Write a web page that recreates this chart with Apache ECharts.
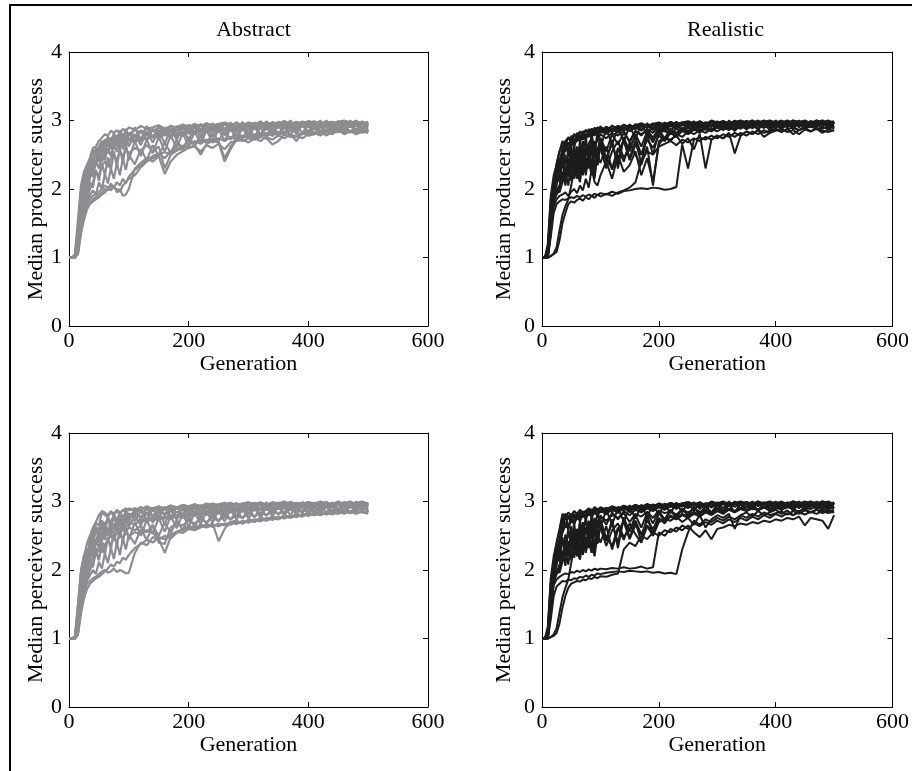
<!DOCTYPE html>
<html><head><meta charset="utf-8">
<script src="https://cdn.jsdelivr.net/npm/echarts@6/dist/echarts.min.js"></script>
<style>html,body{margin:0;padding:0;background:#fff}#c{width:912px;height:771px}</style>
</head><body><div id="c"></div><script>
// Generation sample points
const generations = [0,5,10,15,20,25,30,35,40,45,50,55,60,65,70,75,80,85,90,95,100,
 110,120,130,140,150,160,170,180,190,200,
 210,220,230,240,250,260,270,280,290,300,
 310,320,330,340,350,360,370,380,390,400,
 410,420,430,440,450,460,470,480,490,500];

const xTicks = [0,200,400,600];
const yTicks = [0,1,2,3,4];
const panelTitles = ['Abstract','Realistic','',''];
const yAxisNames = ['Median producer success','Median producer success','Median perceiver success','Median perceiver success'];
const xAxisName = 'Generation';

// Abstract – producer success runs
const abstractProducer = [
[1.00,1.00,1.05,1.55,2.05,2.25,2.35,2.45,2.60,2.62,2.70,2.75,2.80,2.78,2.85,2.82,2.86,2.80,2.88,2.84,2.90,
 2.86,2.92,2.88,2.90,2.93,2.88,2.92,2.90,2.94,2.91,
 2.95,2.92,2.96,2.93,2.95,2.97,2.94,2.96,2.93,2.97,
 2.95,2.98,2.94,2.97,2.96,2.99,2.95,2.98,2.96,2.99,
 2.97,2.95,2.99,2.96,2.98,3.00,2.97,2.99,2.96,2.98],
[1.00,1.00,1.02,1.40,1.95,2.10,2.30,2.35,2.55,2.50,2.62,2.70,2.66,2.75,2.72,2.80,2.76,2.82,2.78,2.85,2.80,
 2.86,2.82,2.88,2.84,2.90,2.86,2.85,2.91,2.88,2.92,
 2.89,2.94,2.90,2.93,2.91,2.95,2.92,2.96,2.94,2.93,
 2.96,2.94,2.97,2.93,2.98,2.95,2.97,2.94,2.98,2.96,
 2.99,2.95,2.97,2.98,2.94,2.99,2.96,2.98,2.95,2.97],
[1.00,1.00,1.00,1.25,1.75,2.05,2.15,2.30,2.40,2.55,2.58,2.65,2.72,2.68,2.74,2.70,2.78,2.74,2.80,2.76,2.82,
 2.78,2.84,2.80,2.86,2.82,2.88,2.84,2.86,2.90,2.85,
 2.92,2.88,2.90,2.93,2.87,2.94,2.90,2.92,2.95,2.91,
 2.93,2.96,2.92,2.95,2.97,2.93,2.96,2.94,2.97,2.95,
 2.96,2.98,2.94,2.97,2.95,2.98,2.96,2.99,2.94,2.96],
[1.00,1.00,1.00,1.20,1.65,1.95,2.10,2.30,2.35,2.40,2.50,2.58,2.62,2.55,2.65,2.70,2.66,2.74,2.70,2.76,2.72,
 2.78,2.74,2.82,2.76,2.80,2.84,2.79,2.86,2.82,2.88,
 2.84,2.87,2.90,2.85,2.91,2.87,2.93,2.89,2.92,2.90,
 2.94,2.90,2.95,2.92,2.93,2.96,2.91,2.95,2.93,2.97,
 2.94,2.96,2.92,2.97,2.95,2.93,2.98,2.95,2.96,2.94],
[1.00,1.00,1.00,1.15,1.55,1.80,2.00,2.15,2.30,2.35,2.45,2.40,2.52,2.58,2.50,2.62,2.66,2.60,2.70,2.65,2.72,
 2.68,2.75,2.72,2.78,2.74,2.80,2.76,2.82,2.78,2.84,
 2.80,2.86,2.83,2.88,2.84,2.89,2.86,2.90,2.87,2.91,
 2.88,2.92,2.89,2.93,2.90,2.94,2.91,2.95,2.92,2.94,
 2.96,2.92,2.95,2.93,2.97,2.94,2.96,2.93,2.95,2.92],
[1.00,1.00,1.00,1.10,1.45,1.70,1.85,2.00,2.10,2.25,2.20,2.35,2.40,2.32,2.45,2.50,2.42,2.55,2.48,2.58,2.52,
 2.60,2.56,2.64,2.55,2.62,2.30,2.50,2.66,2.62,2.70,
 2.66,2.72,2.68,2.74,2.70,2.45,2.62,2.74,2.78,2.75,
 2.80,2.77,2.82,2.78,2.84,2.80,2.86,2.82,2.80,2.85,
 2.88,2.84,2.86,2.90,2.85,2.88,2.92,2.86,2.90,2.88],
[1.00,1.00,1.00,1.08,1.40,1.62,1.78,1.85,1.90,1.92,1.96,2.00,2.05,2.02,1.98,2.05,1.95,2.00,1.90,1.92,2.00,
 2.30,2.38,2.45,2.40,2.48,2.22,2.40,2.50,2.55,2.60,
 2.62,2.55,2.64,2.60,2.66,2.58,2.68,2.70,2.72,2.68,
 2.74,2.70,2.76,2.72,2.78,2.74,2.80,2.76,2.82,2.78,
 2.80,2.84,2.78,2.83,2.86,2.80,2.84,2.82,2.86,2.83],
[1.00,1.00,1.00,1.05,1.35,1.55,1.70,1.78,1.82,1.85,1.88,1.92,1.95,2.00,2.08,2.02,2.10,2.05,2.15,2.08,2.18,
 2.28,2.35,2.42,2.48,2.52,2.45,2.55,2.58,2.62,2.60,
 2.64,2.50,2.66,2.70,2.68,2.40,2.58,2.72,2.70,2.74,
 2.72,2.76,2.74,2.65,2.70,2.80,2.76,2.78,2.74,2.80,
 2.82,2.78,2.84,2.80,2.86,2.82,2.85,2.80,2.84,2.82],
[1.00,1.00,1.00,1.06,1.38,1.60,1.74,1.80,1.85,1.88,1.92,1.95,2.00,1.98,2.05,2.02,2.00,1.96,2.05,2.10,2.15,
 2.20,2.32,2.40,2.45,2.50,2.54,2.50,2.56,2.60,2.64,
 2.70,2.66,2.72,2.68,2.74,2.70,2.76,2.72,2.75,2.78,
 2.74,2.80,2.77,2.82,2.78,2.84,2.80,2.70,2.82,2.85,
 2.80,2.84,2.82,2.86,2.83,2.88,2.84,2.86,2.82,2.85],
[1.00,1.00,1.02,1.30,1.85,2.10,2.20,2.40,2.58,2.45,2.60,2.55,2.68,2.62,2.72,2.66,2.75,2.70,2.78,2.74,2.80,
 2.76,2.70,2.80,2.75,2.82,2.78,2.84,2.80,2.78,2.86,
 2.82,2.88,2.84,2.90,2.86,2.88,2.85,2.91,2.88,2.92,
 2.89,2.93,2.90,2.94,2.91,2.88,2.93,2.95,2.92,2.94,
 2.90,2.95,2.93,2.96,2.92,2.97,2.94,2.95,2.98,2.93],
[1.00,1.00,1.03,1.45,1.98,2.15,2.32,2.20,2.45,2.38,2.55,2.48,2.62,2.52,2.70,2.58,2.74,2.62,2.78,2.66,2.82,
 2.70,2.86,2.72,2.88,2.76,2.90,2.74,2.92,2.80,2.94,
 2.82,2.95,2.84,2.96,2.83,2.97,2.86,2.98,2.85,2.97,
 2.88,2.99,2.86,2.98,2.89,3.00,2.87,2.98,2.90,2.99,
 2.88,3.00,2.89,2.98,2.87,2.99,2.90,3.00,2.88,2.97],
[1.00,1.00,1.00,1.18,1.60,1.90,2.08,2.25,2.18,2.40,2.30,2.52,2.42,2.60,2.48,2.66,2.54,2.72,2.58,2.76,2.62,
 2.80,2.64,2.84,2.68,2.86,2.66,2.88,2.72,2.90,2.70,
 2.92,2.74,2.93,2.76,2.94,2.78,2.95,2.77,2.96,2.80,
 2.97,2.79,2.96,2.82,2.98,2.80,2.97,2.84,2.98,2.82,
 2.99,2.83,2.97,2.85,2.99,2.84,2.98,2.86,2.99,2.85],
[1.00,1.00,1.00,1.12,1.50,1.75,1.92,2.10,2.02,2.28,2.12,2.38,2.20,2.46,2.28,2.55,2.32,2.60,2.38,2.66,2.42,
 2.70,2.48,2.72,2.52,2.76,2.55,2.78,2.60,2.82,2.62,
 2.84,2.66,2.86,2.68,2.88,2.70,2.89,2.72,2.90,2.74,
 2.92,2.75,2.93,2.77,2.94,2.78,2.95,2.80,2.96,2.79,
 2.96,2.81,2.97,2.80,2.97,2.82,2.98,2.81,2.97,2.83],
[1.00,1.00,1.01,1.35,1.90,2.20,2.05,2.45,2.30,2.62,2.40,2.70,2.50,2.78,2.58,2.82,2.62,2.86,2.66,2.88,2.70,
 2.90,2.72,2.92,2.75,2.91,2.78,2.93,2.76,2.94,2.80,
 2.95,2.82,2.96,2.84,2.95,2.86,2.97,2.85,2.98,2.87,
 2.97,2.88,2.99,2.86,2.98,2.89,3.00,2.88,2.99,2.90,
 2.98,2.89,3.00,2.91,2.99,2.90,3.00,2.92,2.98,2.90],
[1.00,1.00,1.00,1.10,1.45,1.68,1.82,1.90,1.98,1.92,2.10,2.00,2.22,2.08,2.30,2.15,2.38,2.20,2.45,2.28,2.50,
 2.36,2.58,2.42,2.64,2.48,2.68,2.52,2.72,2.56,2.76,
 2.62,2.80,2.66,2.82,2.70,2.85,2.72,2.86,2.74,2.88,
 2.76,2.90,2.78,2.91,2.80,2.92,2.79,2.93,2.82,2.94,
 2.81,2.95,2.83,2.94,2.84,2.96,2.82,2.95,2.85,2.96]
];

// Realistic – producer success runs
const realisticProducer = [
[1.00,1.00,1.20,1.90,2.20,2.35,2.55,2.62,2.70,2.75,2.72,2.80,2.78,2.84,2.80,2.86,2.82,2.88,2.84,2.90,2.86,
 2.90,2.87,2.92,2.89,2.93,2.90,2.94,2.91,2.95,2.92,
 2.96,2.93,2.95,2.97,2.94,2.96,2.98,2.95,2.97,2.94,
 2.98,2.96,2.99,2.95,2.97,3.00,2.96,2.98,2.95,2.99,
 2.97,3.00,2.96,2.98,2.99,2.95,3.00,2.97,2.98,2.96],
[1.00,1.00,1.10,1.75,2.05,2.25,2.40,2.58,2.55,2.68,2.62,2.74,2.70,2.78,2.72,2.80,2.76,2.84,2.78,2.86,2.82,
 2.88,2.84,2.90,2.86,2.92,2.88,2.91,2.93,2.89,2.95,
 2.92,2.96,2.93,2.95,2.97,2.93,2.96,2.94,2.98,2.95,
 2.97,2.94,2.98,2.96,2.99,2.95,2.97,3.00,2.96,2.98,
 2.95,2.99,2.97,2.94,2.98,2.96,3.00,2.95,2.97,2.99],
[1.00,1.00,1.05,1.60,1.95,2.10,2.20,2.35,2.25,2.45,2.30,2.55,2.20,2.60,2.35,2.50,2.65,2.30,2.70,2.45,2.75,
 2.55,2.80,2.65,2.82,2.70,2.85,2.78,2.88,2.82,2.90,
 2.86,2.92,2.88,2.94,2.90,2.93,2.95,2.91,2.96,2.93,
 2.95,2.97,2.93,2.96,2.98,2.94,2.97,2.95,2.99,2.96,
 2.98,2.94,2.97,2.99,2.95,2.98,2.96,2.99,2.94,2.97],
[1.00,1.00,1.02,1.45,1.85,1.95,2.05,2.20,2.10,2.30,2.15,2.40,2.25,2.10,2.45,2.20,2.55,2.35,2.15,2.50,2.60,
 2.30,2.55,2.70,2.45,2.62,2.75,2.50,2.78,2.72,2.82,
 2.85,2.80,2.88,2.84,2.90,2.86,2.92,2.88,2.93,2.90,
 2.94,2.91,2.95,2.92,2.96,2.93,2.97,2.94,2.96,2.98,
 2.95,2.97,2.93,2.98,2.96,2.94,2.99,2.95,2.97,2.96],
[1.00,1.00,1.02,1.40,1.75,1.85,1.90,1.92,1.95,1.90,1.96,2.00,1.94,2.05,1.98,2.15,2.02,2.30,2.10,2.05,2.20,
 2.40,2.15,2.50,2.25,2.35,2.55,2.20,2.45,2.10,2.65,
 2.75,2.70,2.80,2.76,2.84,2.80,2.86,2.82,2.88,2.84,
 2.90,2.86,2.92,2.88,2.93,2.90,2.94,2.91,2.95,2.92,
 2.93,2.96,2.91,2.95,2.97,2.92,2.96,2.94,2.97,2.93],
[1.00,1.00,1.00,1.30,1.65,1.78,1.82,1.85,1.84,1.86,1.88,1.87,1.90,1.88,1.91,1.89,1.92,1.90,1.93,1.91,1.94,
 1.92,1.96,1.93,1.97,1.98,2.00,2.01,2.00,2.02,2.01,
 1.99,2.00,2.03,2.65,2.30,2.72,2.75,2.72,2.78,2.74,
 2.80,2.76,2.82,2.78,2.84,2.80,2.86,2.82,2.85,2.88,
 2.84,2.87,2.90,2.86,2.89,2.92,2.87,2.90,2.88,2.91],
[1.00,1.00,1.00,1.02,1.05,1.08,1.25,1.50,1.65,1.78,1.82,1.80,1.84,1.86,1.83,1.88,1.85,1.90,1.87,1.92,1.89,
 1.93,1.90,1.95,1.98,2.02,2.10,2.40,2.55,2.50,2.62,
 2.66,2.70,2.64,2.72,2.68,2.74,2.70,2.76,2.72,2.78,
 2.74,2.80,2.76,2.82,2.78,2.84,2.80,2.86,2.82,2.85,
 2.88,2.83,2.86,2.80,2.87,2.84,2.89,2.85,2.83,2.86],
[1.00,1.00,1.00,1.02,1.06,1.15,1.40,1.62,1.75,1.85,2.05,2.30,2.15,2.50,2.25,2.60,2.40,2.20,2.55,2.35,2.65,
 2.45,2.30,2.60,2.40,2.68,2.50,2.35,2.62,2.05,2.70,
 2.75,2.72,2.78,2.66,2.74,2.58,2.80,2.30,2.72,2.78,
 2.74,2.82,2.52,2.78,2.84,2.80,2.86,2.76,2.82,2.87,
 2.83,2.88,2.80,2.86,2.90,2.84,2.88,2.82,2.87,2.85],
[1.00,1.00,1.08,1.65,2.00,2.15,2.30,2.50,2.62,2.58,2.72,2.66,2.78,2.74,2.82,2.76,2.85,2.80,2.88,2.84,2.90,
 2.86,2.92,2.88,2.94,2.90,2.93,2.96,2.92,2.95,2.97,
 2.94,2.98,2.95,2.97,2.99,2.96,2.98,2.95,3.00,2.97,
 2.99,2.96,2.98,3.00,2.97,2.99,2.96,2.98,3.00,2.97,
 2.99,2.96,3.00,2.98,2.95,2.99,2.97,3.00,2.96,2.98],
[1.00,1.00,1.04,1.55,1.90,2.00,1.95,2.10,2.25,2.05,2.40,2.15,2.35,2.55,2.20,2.45,2.30,2.60,2.25,2.50,2.38,
 2.62,2.28,2.55,2.70,2.42,2.65,2.50,2.72,2.60,2.78,
 2.70,2.82,2.76,2.85,2.80,2.87,2.83,2.89,2.85,2.90,
 2.87,2.92,2.88,2.93,2.90,2.91,2.94,2.89,2.95,2.92,
 2.94,2.90,2.96,2.92,2.95,2.97,2.93,2.96,2.94,2.88],
[1.00,1.00,1.15,1.85,2.10,2.30,2.45,2.40,2.60,2.55,2.68,2.64,2.72,2.70,2.76,2.74,2.80,2.77,2.82,2.79,2.84,
 2.81,2.86,2.83,2.88,2.85,2.89,2.87,2.91,2.88,2.92,
 2.90,2.93,2.91,2.94,2.92,2.95,2.93,2.96,2.92,2.95,
 2.93,2.96,2.94,2.97,2.92,2.96,2.95,2.98,2.93,2.96,
 2.94,2.97,2.95,2.92,2.96,2.94,2.97,2.95,2.93,2.96],
[1.00,1.00,1.03,1.50,1.88,1.98,2.05,2.15,2.30,2.20,2.50,2.35,2.62,2.45,2.70,2.55,2.66,2.75,2.60,2.72,2.80,
 2.74,2.82,2.78,2.85,2.68,2.84,2.80,2.86,2.75,2.88,
 2.84,2.87,2.82,2.89,2.85,2.90,2.86,2.88,2.84,2.91,
 2.87,2.90,2.86,2.92,2.88,2.91,2.89,2.93,2.87,2.92,
 2.89,2.93,2.90,2.86,2.92,2.90,2.94,2.88,2.92,2.90],
[1.00,1.00,1.06,1.70,2.00,2.25,2.10,2.45,2.20,2.60,2.30,2.68,2.25,2.72,2.40,2.78,2.35,2.82,2.50,2.85,2.60,
 2.88,2.65,2.90,2.70,2.92,2.74,2.94,2.78,2.95,2.80,
 2.96,2.82,2.97,2.84,2.98,2.85,2.99,2.86,2.98,2.88,
 3.00,2.87,2.99,2.89,3.00,2.88,2.99,2.90,3.00,2.89,
 2.99,2.91,3.00,2.90,2.99,2.92,3.00,2.91,2.99,2.90],
[1.00,1.00,1.02,1.50,1.92,2.05,2.35,2.12,2.50,2.18,2.62,2.25,2.55,2.15,2.68,2.30,2.60,2.22,2.70,2.35,2.65,
 2.40,2.72,2.30,2.76,2.45,2.70,2.38,2.80,2.50,2.84,
 2.70,2.88,2.76,2.90,2.80,2.92,2.82,2.94,2.84,2.95,
 2.86,2.96,2.85,2.97,2.87,2.96,2.88,2.98,2.86,2.97,
 2.89,2.98,2.87,2.99,2.88,2.97,2.90,2.99,2.88,2.98],
[1.00,1.00,1.03,1.62,1.96,2.18,2.40,2.55,2.70,2.50,2.78,2.62,2.82,2.70,2.85,2.72,2.88,2.75,2.90,2.78,2.92,
 2.80,2.93,2.82,2.94,2.84,2.95,2.85,2.96,2.86,2.97,
 2.87,2.98,2.88,2.97,2.89,2.99,2.88,2.98,2.90,2.99,
 2.89,3.00,2.91,2.99,2.90,3.00,2.92,2.99,2.91,3.00,
 2.90,2.99,2.92,3.00,2.91,2.99,2.93,3.00,2.92,2.98],
[1.00,1.00,1.00,1.35,1.80,1.92,1.98,2.25,2.05,2.40,2.12,2.52,2.20,2.35,2.60,2.25,2.48,2.68,2.30,2.58,2.72,
 2.45,2.66,2.38,2.75,2.55,2.80,2.62,2.84,2.68,2.86,
 2.74,2.88,2.78,2.90,2.80,2.92,2.82,2.93,2.84,2.94,
 2.86,2.95,2.85,2.96,2.87,2.97,2.86,2.98,2.88,2.97,
 2.87,2.98,2.89,2.97,2.88,2.99,2.90,2.98,2.89,2.97],
[1.00,1.00,1.08,1.78,2.10,2.38,2.55,2.70,2.62,2.76,2.68,2.80,2.72,2.84,2.76,2.86,2.80,2.88,2.82,2.90,2.84,
 2.91,2.86,2.92,2.87,2.94,2.88,2.95,2.90,2.96,2.91,
 2.97,2.92,2.98,2.93,2.97,2.94,2.99,2.93,2.98,2.95,
 2.99,2.94,3.00,2.95,2.99,2.96,3.00,2.95,2.99,2.96,
 3.00,2.95,2.99,2.97,3.00,2.96,2.99,2.97,3.00,2.96]
];

// Abstract – perceiver success runs
const abstractPerceiver = [
[1.00,1.00,1.04,1.50,2.00,2.20,2.38,2.50,2.62,2.70,2.80,2.86,2.84,2.80,2.86,2.82,2.88,2.84,2.86,2.90,2.87,
 2.90,2.88,2.93,2.89,2.92,2.90,2.94,2.91,2.95,2.93,
 2.96,2.93,2.97,2.94,2.96,2.98,2.95,2.97,2.94,2.98,
 2.96,2.99,2.95,2.97,2.98,2.96,2.99,2.97,2.95,2.99,
 2.97,3.00,2.96,2.98,2.95,2.99,2.97,2.98,3.00,2.96],
[1.00,1.00,1.02,1.42,1.92,2.05,2.25,2.38,2.50,2.62,2.58,2.72,2.66,2.76,2.70,2.80,2.74,2.82,2.78,2.85,2.80,
 2.84,2.88,2.82,2.90,2.86,2.92,2.87,2.90,2.93,2.89,
 2.94,2.91,2.95,2.92,2.96,2.93,2.95,2.97,2.94,2.96,
 2.98,2.94,2.97,2.95,2.98,2.96,2.99,2.95,2.98,2.97,
 2.95,2.99,2.97,2.96,3.00,2.95,2.98,2.96,2.99,2.97],
[1.00,1.00,1.00,1.30,1.80,2.00,2.12,2.28,2.45,2.55,2.62,2.58,2.68,2.72,2.66,2.75,2.70,2.78,2.74,2.80,2.76,
 2.82,2.78,2.84,2.80,2.86,2.82,2.88,2.84,2.90,2.86,
 2.91,2.88,2.92,2.89,2.93,2.90,2.94,2.91,2.95,2.92,
 2.94,2.96,2.92,2.95,2.97,2.93,2.96,2.94,2.97,2.95,
 2.96,2.93,2.97,2.95,2.98,2.94,2.97,2.95,2.98,2.96],
[1.00,1.00,1.00,1.22,1.70,1.92,2.05,2.20,2.30,2.45,2.40,2.55,2.50,2.60,2.56,2.64,2.60,2.68,2.64,2.72,2.68,
 2.74,2.70,2.76,2.72,2.78,2.75,2.80,2.77,2.82,2.79,
 2.84,2.81,2.86,2.83,2.88,2.85,2.89,2.86,2.90,2.87,
 2.91,2.88,2.92,2.89,2.93,2.90,2.94,2.91,2.95,2.92,
 2.93,2.96,2.92,2.95,2.97,2.93,2.96,2.94,2.97,2.95],
[1.00,1.00,1.00,1.15,1.58,1.82,1.98,2.10,2.20,2.32,2.28,2.40,2.36,2.45,2.50,2.44,2.55,2.52,2.60,2.56,2.62,
 2.58,2.64,2.55,2.66,2.40,2.38,2.62,2.68,2.65,2.72,
 2.68,2.74,2.70,2.76,2.72,2.78,2.74,2.80,2.76,2.82,
 2.78,2.84,2.80,2.86,2.82,2.85,2.88,2.84,2.87,2.90,
 2.86,2.89,2.92,2.87,2.90,2.88,2.92,2.89,2.91,2.88],
[1.00,1.00,1.00,1.10,1.48,1.72,1.86,2.00,2.12,2.22,2.30,2.26,2.36,2.42,2.38,2.46,2.42,2.50,2.46,2.54,2.50,
 2.55,2.52,2.58,2.54,2.45,2.25,2.48,2.56,2.60,2.64,
 2.62,2.66,2.64,2.68,2.42,2.60,2.70,2.72,2.68,2.74,
 2.72,2.76,2.74,2.78,2.75,2.80,2.77,2.82,2.79,2.84,
 2.81,2.85,2.83,2.86,2.84,2.87,2.85,2.82,2.86,2.84],
[1.00,1.00,1.00,1.08,1.42,1.65,1.80,1.84,1.88,1.90,1.94,1.98,2.00,1.96,1.98,2.02,1.97,2.00,1.98,1.95,1.96,
 2.25,2.40,2.36,2.48,2.44,2.50,2.46,2.54,2.58,2.62,
 2.60,2.64,2.62,2.66,2.64,2.68,2.66,2.70,2.68,2.72,
 2.70,2.74,2.72,2.76,2.74,2.78,2.76,2.80,2.78,2.82,
 2.80,2.83,2.81,2.84,2.82,2.85,2.83,2.86,2.84,2.83],
[1.00,1.00,1.00,1.05,1.36,1.58,1.72,1.80,1.84,1.88,1.90,1.94,1.98,2.02,2.08,2.05,2.12,2.10,2.18,2.15,2.22,
 2.32,2.38,2.44,2.40,2.48,2.45,2.52,2.56,2.54,2.60,
 2.58,2.62,2.66,2.63,2.68,2.65,2.70,2.67,2.72,2.69,
 2.74,2.71,2.76,2.73,2.78,2.75,2.80,2.77,2.82,2.79,
 2.83,2.80,2.84,2.81,2.85,2.82,2.86,2.83,2.85,2.82],
[1.00,1.00,1.02,1.35,1.85,2.05,2.20,2.35,2.55,2.68,2.65,2.85,2.80,2.78,2.84,2.80,2.86,2.82,2.88,2.85,2.90,
 2.86,2.92,2.88,2.90,2.93,2.89,2.94,2.91,2.95,2.92,
 2.96,2.93,2.95,2.97,2.94,2.96,2.98,2.95,2.97,2.99,
 2.96,2.98,2.95,2.99,2.97,3.00,2.96,2.98,2.97,2.99,
 2.96,2.99,2.98,2.95,2.99,2.97,3.00,2.96,2.98,2.97],
[1.00,1.00,1.00,1.18,1.62,1.88,2.02,2.18,2.28,2.38,2.48,2.42,2.55,2.50,2.60,2.54,2.64,2.58,2.68,2.62,2.70,
 2.66,2.74,2.70,2.76,2.72,2.78,2.74,2.80,2.76,2.82,
 2.79,2.84,2.80,2.86,2.82,2.87,2.84,2.89,2.85,2.90,
 2.87,2.91,2.88,2.92,2.89,2.93,2.90,2.94,2.91,2.93,
 2.95,2.91,2.94,2.92,2.96,2.93,2.95,2.91,2.94,2.92],
[1.00,1.00,1.03,1.48,1.96,2.18,2.30,2.24,2.48,2.40,2.58,2.50,2.64,2.55,2.72,2.60,2.76,2.64,2.80,2.68,2.83,
 2.72,2.86,2.74,2.88,2.78,2.90,2.76,2.92,2.81,2.94,
 2.83,2.95,2.85,2.96,2.84,2.97,2.87,2.98,2.86,2.97,
 2.88,2.99,2.87,2.98,2.90,3.00,2.88,2.98,2.91,2.99,
 2.89,3.00,2.90,2.98,2.88,2.99,2.91,3.00,2.89,2.97],
[1.00,1.00,1.00,1.20,1.62,1.92,2.10,2.28,2.20,2.42,2.32,2.54,2.44,2.62,2.50,2.68,2.56,2.74,2.60,2.77,2.63,
 2.80,2.65,2.84,2.69,2.86,2.67,2.88,2.73,2.90,2.71,
 2.92,2.75,2.93,2.77,2.94,2.79,2.95,2.78,2.96,2.81,
 2.97,2.80,2.96,2.83,2.98,2.81,2.97,2.85,2.98,2.83,
 2.99,2.84,2.97,2.86,2.99,2.85,2.98,2.87,2.99,2.86],
[1.00,1.00,1.00,1.12,1.52,1.78,1.94,2.12,2.04,2.30,2.14,2.40,2.22,2.48,2.30,2.56,2.34,2.62,2.40,2.66,2.44,
 2.70,2.50,2.73,2.53,2.76,2.56,2.79,2.61,2.82,2.63,
 2.84,2.67,2.86,2.69,2.88,2.71,2.89,2.73,2.90,2.75,
 2.92,2.76,2.93,2.78,2.94,2.79,2.95,2.81,2.96,2.80,
 2.96,2.82,2.97,2.81,2.97,2.83,2.98,2.82,2.97,2.84],
[1.00,1.00,1.01,1.38,1.92,2.22,2.08,2.48,2.32,2.64,2.42,2.72,2.52,2.79,2.60,2.83,2.63,2.86,2.67,2.88,2.71,
 2.90,2.73,2.92,2.76,2.91,2.79,2.93,2.77,2.94,2.81,
 2.95,2.83,2.96,2.85,2.95,2.87,2.97,2.86,2.98,2.88,
 2.97,2.89,2.99,2.87,2.98,2.90,3.00,2.89,2.99,2.91,
 2.98,2.90,3.00,2.92,2.99,2.91,3.00,2.93,2.98,2.91],
[1.00,1.00,1.00,1.10,1.46,1.70,1.84,1.92,2.00,1.94,2.12,2.02,2.24,2.10,2.32,2.16,2.40,2.22,2.46,2.30,2.52,
 2.38,2.60,2.44,2.65,2.50,2.69,2.54,2.73,2.58,2.77,
 2.63,2.81,2.67,2.83,2.71,2.86,2.73,2.87,2.75,2.89,
 2.77,2.90,2.79,2.91,2.81,2.92,2.80,2.93,2.83,2.94,
 2.82,2.95,2.84,2.94,2.85,2.96,2.83,2.95,2.86,2.96]
];

// Realistic – perceiver success runs
const realisticPerceiver = [
[1.00,1.00,1.18,1.88,2.20,2.40,2.60,2.82,2.78,2.84,2.80,2.86,2.82,2.88,2.84,2.86,2.90,2.86,2.92,2.88,2.91,
 2.89,2.93,2.90,2.94,2.91,2.95,2.92,2.96,2.93,2.97,
 2.94,2.98,2.95,2.97,2.99,2.96,2.98,2.95,2.99,2.97,
 3.00,2.96,2.98,2.97,2.99,2.96,3.00,2.97,2.98,2.96,
 2.99,2.97,3.00,2.96,2.98,2.99,2.96,3.00,2.97,2.98],
[1.00,1.00,1.08,1.72,2.05,2.22,2.42,2.55,2.65,2.60,2.72,2.68,2.76,2.72,2.80,2.76,2.82,2.78,2.84,2.80,2.86,
 2.82,2.88,2.84,2.90,2.86,2.91,2.88,2.92,2.89,2.94,
 2.91,2.95,2.92,2.96,2.93,2.97,2.94,2.96,2.98,2.95,
 2.97,2.94,2.98,2.96,2.99,2.95,2.97,2.98,2.96,2.99,
 2.97,2.95,2.99,2.96,2.98,3.00,2.96,2.98,2.95,2.99],
[1.00,1.00,1.05,1.60,1.95,2.10,2.25,2.40,2.30,2.55,2.40,2.62,2.35,2.68,2.50,2.58,2.72,2.45,2.76,2.60,2.80,
 2.66,2.84,2.74,2.86,2.80,2.88,2.84,2.90,2.86,2.92,
 2.88,2.93,2.90,2.94,2.91,2.95,2.92,2.96,2.93,2.95,
 2.97,2.94,2.96,2.98,2.95,2.97,2.94,2.98,2.96,2.99,
 2.95,2.98,2.96,2.99,2.94,2.97,2.99,2.95,2.98,2.96],
[1.00,1.00,1.02,1.48,1.85,1.96,2.08,2.22,2.12,2.32,2.18,2.42,2.28,2.15,2.48,2.25,2.55,2.38,2.20,2.52,2.62,
 2.35,2.58,2.68,2.48,2.60,2.72,2.52,2.65,2.55,2.74,
 2.70,2.78,2.74,2.80,2.76,2.82,2.78,2.84,2.80,2.86,
 2.82,2.88,2.84,2.89,2.86,2.90,2.87,2.91,2.88,2.92,
 2.89,2.93,2.90,2.94,2.91,2.93,2.95,2.90,2.94,2.92],
[1.00,1.00,1.02,1.42,1.78,1.86,1.90,1.93,1.95,1.94,1.97,1.96,1.99,1.97,2.00,1.98,2.01,1.99,2.02,2.00,2.02,
 2.01,2.03,2.02,2.04,2.02,2.03,2.05,2.02,2.04,2.55,
 2.50,2.60,2.56,2.65,2.60,2.68,2.64,2.70,2.66,2.72,
 2.68,2.74,2.70,2.76,2.72,2.78,2.74,2.80,2.76,2.82,
 2.78,2.83,2.80,2.84,2.81,2.85,2.82,2.86,2.83,2.85],
[1.00,1.00,1.00,1.28,1.62,1.76,1.80,1.84,1.83,1.86,1.85,1.88,1.87,1.90,1.89,1.92,1.90,1.93,1.92,1.95,1.94,
 1.96,1.97,1.98,1.97,1.99,1.98,1.97,1.98,1.96,1.97,
 1.95,1.96,1.94,2.30,2.55,2.72,2.66,2.74,2.70,2.76,
 2.72,2.78,2.74,2.80,2.76,2.82,2.78,2.84,2.80,2.83,
 2.85,2.81,2.86,2.82,2.87,2.84,2.88,2.85,2.87,2.86],
[1.00,1.00,1.00,1.02,1.04,1.08,1.22,1.45,1.62,1.74,1.80,1.82,1.84,1.83,1.86,1.85,1.88,1.87,1.90,1.88,1.91,
 1.90,1.93,1.95,2.30,2.40,2.35,2.50,2.45,2.55,2.50,
 2.58,2.55,2.62,2.58,2.65,2.55,2.48,2.58,2.45,2.60,
 2.62,2.66,2.64,2.68,2.66,2.70,2.68,2.72,2.70,2.74,
 2.72,2.76,2.74,2.78,2.65,2.76,2.74,2.72,2.60,2.80],
[1.00,1.00,1.00,1.02,1.06,1.15,1.38,1.60,1.74,1.86,2.10,2.35,2.20,2.55,2.30,2.62,2.42,2.25,2.58,2.40,2.66,
 2.48,2.35,2.62,2.44,2.68,2.52,2.40,2.64,2.50,2.70,
 2.74,2.72,2.78,2.70,2.76,2.66,2.80,2.62,2.74,2.80,
 2.76,2.82,2.60,2.80,2.84,2.78,2.86,2.80,2.84,2.88,
 2.82,2.87,2.80,2.86,2.89,2.84,2.88,2.83,2.86,2.84],
[1.00,1.00,1.10,1.68,2.02,2.20,2.35,2.55,2.68,2.62,2.76,2.70,2.80,2.76,2.84,2.78,2.86,2.82,2.88,2.84,2.90,
 2.86,2.92,2.88,2.93,2.90,2.95,2.91,2.96,2.93,2.97,
 2.94,2.98,2.95,2.97,2.99,2.96,2.98,2.95,3.00,2.97,
 2.99,2.96,2.98,3.00,2.97,2.99,2.96,2.98,3.00,2.97,
 2.99,2.96,3.00,2.98,2.95,2.99,2.97,3.00,2.96,2.98],
[1.00,1.00,1.04,1.52,1.90,2.00,1.96,2.12,2.28,2.08,2.42,2.18,2.38,2.58,2.22,2.48,2.32,2.62,2.28,2.52,2.40,
 2.64,2.30,2.58,2.70,2.45,2.66,2.52,2.72,2.60,2.76,
 2.68,2.80,2.74,2.82,2.78,2.85,2.80,2.86,2.82,2.88,
 2.84,2.89,2.86,2.90,2.87,2.91,2.88,2.92,2.89,2.93,
 2.90,2.94,2.91,2.95,2.88,2.94,2.92,2.95,2.90,2.93],
[1.00,1.00,1.12,1.82,2.08,2.28,2.45,2.70,2.82,2.78,2.80,2.76,2.82,2.78,2.84,2.80,2.86,2.82,2.88,2.84,2.89,
 2.86,2.90,2.87,2.92,2.88,2.93,2.90,2.94,2.91,2.95,
 2.92,2.96,2.93,2.95,2.97,2.94,2.96,2.93,2.97,2.95,
 2.96,2.94,2.97,2.95,2.98,2.93,2.96,2.97,2.94,2.98,
 2.95,2.97,2.94,2.98,2.96,2.93,2.97,2.95,2.98,2.96],
[1.00,1.00,1.03,1.50,1.86,1.96,2.05,2.18,2.32,2.22,2.52,2.38,2.60,2.46,2.68,2.55,2.64,2.74,2.58,2.70,2.78,
 2.72,2.80,2.76,2.83,2.70,2.82,2.78,2.85,2.76,2.87,
 2.83,2.86,2.81,2.88,2.84,2.89,2.85,2.87,2.83,2.90,
 2.86,2.89,2.85,2.91,2.87,2.90,2.88,2.92,2.86,2.91,
 2.88,2.92,2.89,2.85,2.91,2.89,2.93,2.87,2.91,2.89],
[1.00,1.00,1.06,1.72,2.02,2.28,2.12,2.48,2.22,2.62,2.32,2.70,2.28,2.74,2.42,2.80,2.38,2.83,2.52,2.86,2.62,
 2.88,2.66,2.90,2.71,2.92,2.75,2.94,2.78,2.95,2.81,
 2.96,2.83,2.97,2.84,2.98,2.86,2.99,2.87,2.98,2.88,
 3.00,2.87,2.99,2.89,3.00,2.88,2.99,2.90,3.00,2.89,
 2.99,2.91,3.00,2.90,2.99,2.92,3.00,2.91,2.99,2.90],
[1.00,1.00,1.02,1.52,1.90,2.06,2.38,2.14,2.52,2.20,2.64,2.28,2.56,2.18,2.70,2.32,2.62,2.25,2.72,2.38,2.66,
 2.42,2.74,2.32,2.77,2.47,2.71,2.40,2.80,2.52,2.84,
 2.70,2.88,2.75,2.90,2.79,2.92,2.81,2.94,2.83,2.95,
 2.85,2.96,2.84,2.97,2.86,2.96,2.87,2.98,2.85,2.97,
 2.88,2.98,2.86,2.99,2.87,2.97,2.89,2.99,2.87,2.98],
[1.00,1.00,1.03,1.64,1.98,2.20,2.42,2.62,2.80,2.60,2.82,2.66,2.84,2.72,2.86,2.74,2.88,2.76,2.90,2.79,2.92,
 2.81,2.93,2.83,2.94,2.84,2.95,2.86,2.96,2.87,2.97,
 2.88,2.98,2.89,2.97,2.90,2.99,2.89,2.98,2.91,2.99,
 2.90,3.00,2.92,2.99,2.91,3.00,2.93,2.99,2.92,3.00,
 2.91,2.99,2.93,3.00,2.92,2.99,2.94,3.00,2.93,2.98],
[1.00,1.00,1.00,1.36,1.82,1.94,2.00,2.28,2.06,2.42,2.14,2.54,2.22,2.36,2.62,2.26,2.50,2.70,2.32,2.60,2.74,
 2.46,2.68,2.40,2.76,2.56,2.80,2.62,2.84,2.68,2.86,
 2.74,2.88,2.78,2.90,2.80,2.92,2.82,2.93,2.84,2.94,
 2.86,2.95,2.85,2.96,2.87,2.97,2.86,2.98,2.88,2.97,
 2.87,2.98,2.89,2.97,2.88,2.99,2.90,2.98,2.89,2.97],
[1.00,1.00,1.08,1.80,2.12,2.40,2.58,2.78,2.64,2.78,2.70,2.82,2.74,2.85,2.77,2.87,2.80,2.89,2.82,2.90,2.84,
 2.91,2.86,2.92,2.87,2.94,2.88,2.95,2.90,2.96,2.91,
 2.97,2.92,2.98,2.93,2.97,2.94,2.99,2.93,2.98,2.95,
 2.99,2.94,3.00,2.95,2.99,2.96,3.00,2.95,2.99,2.96,
 3.00,2.95,2.99,2.97,3.00,2.96,2.99,2.97,3.00,2.96]
];

const panelRuns = [abstractProducer, realisticProducer, abstractPerceiver, realisticPerceiver];
const panelColors = ['#8c8d91','#1c1c1c','#8c8d91','#1c1c1c'];
const lineWidths = [2.2, 2.0, 2.2, 2.0];
const grids = [
  {left:69, top:52, width:359, height:274},
  {left:542, top:52, width:357, height:274},
  {left:69, top:433, width:359, height:274},
  {left:542, top:433, width:357, height:274}
];
const yNameGaps = [22, 27, 22, 27];

const FONT = 'Liberation Serif, Times New Roman, serif';
const FS = 22;
const axisLine = {show:true, onZero:false, lineStyle:{color:'#000', width:1}};
const tick = {show:true, inside:true, length:5, lineStyle:{color:'#000', width:1}};

const xAxes = [], yAxes = [], series = [], titles = [];
grids.forEach((g, i) => {
  xAxes.push({type:'value', gridIndex:i, position:'bottom', min:0, max:600, interval:200,
    axisLine, axisTick:tick, splitLine:{show:false},
    axisLabel:{fontFamily:FONT, fontSize:FS, color:'#000', margin:4,
      formatter: v => xTicks.includes(v) ? String(v) : ''},
    name:xAxisName, nameLocation:'middle', nameGap:25,
    nameTextStyle:{fontFamily:FONT, fontSize:FS, color:'#000'}});
  xAxes.push({type:'value', gridIndex:i, position:'top', min:0, max:600, interval:200,
    axisLine, axisTick:tick, splitLine:{show:false}, axisLabel:{show:false}});
  yAxes.push({type:'value', gridIndex:i, position:'left', min:0, max:4, interval:1,
    axisLine, axisTick:tick, splitLine:{show:false},
    axisLabel:{fontFamily:FONT, fontSize:FS, color:'#000', margin:7,
      formatter: v => yTicks.includes(v) ? String(v) : ''},
    name:yAxisNames[i], nameLocation:'middle', nameGap:yNameGaps[i],
    nameTextStyle:{fontFamily:FONT, fontSize:FS, color:'#000'}});
  yAxes.push({type:'value', gridIndex:i, position:'right', min:0, max:4, interval:1,
    axisLine, axisTick:tick, splitLine:{show:false}, axisLabel:{show:false}});
  if (panelTitles[i]) {
    titles.push({text:panelTitles[i], left:g.left + g.width/2, top:14, textAlign:'center',
      textStyle:{fontFamily:FONT, fontSize:FS, fontWeight:'normal', color:'#000'}});
  }
  panelRuns[i].forEach(run => {
    series.push({type:'line', xAxisIndex:2*i, yAxisIndex:2*i, showSymbol:false, symbol:'none',
      animation:false, silent:true,
      lineStyle:{color:panelColors[i], width:lineWidths[i]},
      data: generations.map((gen, k) => [gen, run[k]])});
  });
});

const chart = echarts.init(document.getElementById('c'), null, {renderer:'canvas'});
chart.setOption({
  animation:false,
  backgroundColor:'#fff',
  title: titles,
  grid: grids,
  xAxis: xAxes,
  yAxis: yAxes,
  series,
  graphic:[{type:'rect', shape:{x:10, y:5, width:940, height:800},
    style:{fill:null, stroke:'#000', lineWidth:2}, silent:true}]
});
</script></body></html>
